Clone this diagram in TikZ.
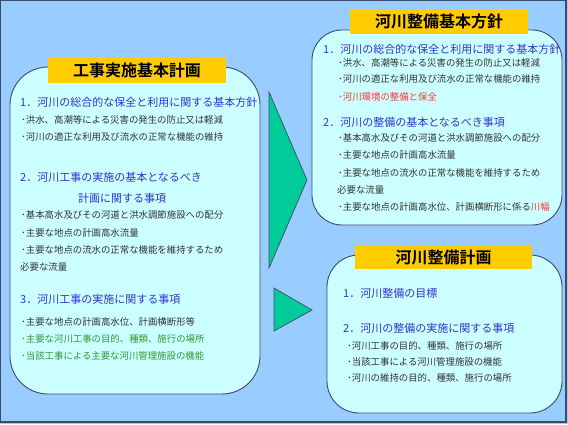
\documentclass[tikz,border=0pt]{standalone}
\usepackage{fontspec}
\newfontfamily\cjk{Noto Sans CJK JP}[BoldFont={Noto Sans CJK JP Bold}]
\definecolor{bgc}{HTML}{99CCFF}
\definecolor{boxc}{HTML}{CCFFFF}
\definecolor{edgec}{HTML}{3F4A66}
\definecolor{titc}{HTML}{FFCC00}
\definecolor{headc}{HTML}{3333CC}
\definecolor{txtc}{HTML}{333333}
\definecolor{grnc}{HTML}{339933}
\definecolor{redc}{HTML}{FF3333}
\definecolor{tric}{HTML}{00CC99}
\tikzset{
  panel/.style={fill=boxc,draw=edgec,line width=0.9pt},
  titlebox/.style={fill=titc,draw=none,inner sep=0pt,font=\cjk\bfseries\fontsize{16}{18}\selectfont,text=black},
  head/.style={anchor=west,inner sep=0pt,text=headc,font=\cjk\fontsize{11}{13}\selectfont},
  item/.style={anchor=west,inner sep=0pt,text=txtc,font=\cjk\fontsize{9.4}{11}\selectfont},
  gitem/.style={item,text=grnc},
  ritem/.style={item,text=redc},
  tri/.style={fill=tric,draw=edgec,line width=0.7pt,line join=miter}
}
\begin{document}
\begin{tikzpicture}[x=1pt,y=-1pt]
\useasboundingbox (0,0) rectangle (568,424);
\fill[bgc] (0,0) rectangle (568,424);
\draw[edgec,line width=1.2pt] (0.6,0.6) rectangle (566,422);

% left panel
\draw[panel,rounded corners=38pt] (10,67) rectangle (260,394);
\node[titlebox,minimum width=178pt,minimum height=26pt] (t1) at (137,70) {工事実施基本計画};
\node[head] (l1) at (20,102) {1．河川の総合的な保全と利用に関する基本方針};
\node[item] (l2) at (21,120) {･洪水、高潮等による災害の発生の防止又は軽減};
\node[item] (l3) at (21,137) {･河川の適正な利用及び流水の正常な機能の維持};
\node[head] (l4) at (20,177) {2．河川工事の実施の基本となるべき};
\node[head] (l5) at (78,198) {計画に関する事項};
\node[item] (l6) at (21,215) {･基本高水及びその河道と洪水調節施設への配分};
\node[item] (l7) at (21,233) {･主要な地点の計画高水流量};
\node[item] (l8) at (21,250) {･主要な地点の流水の正常な機能を維持するため};
\node[item] (l9) at (20,267) {必要な流量};
\node[head] (l10) at (20,299) {3．河川工事の実施に関する事項};
\node[item] (l11) at (21,322) {･主要な地点の計画高水位、計画横断形等};
\node[gitem] (l12) at (21,339) {･主要な河川工事の目的、種類、施行の場所};
\node[gitem] (l13) at (21,356) {･当該工事による主要な河川管理施設の機能};

% arrows
\draw[tri] (269,92) -- (269,268) -- (307,180) -- cycle;
\draw[tri] (274,288) -- (274,331) -- (312,310) -- cycle;

% top right panel
\draw[panel,rounded corners=30pt] (312,30) rectangle (562,225);
\node[titlebox,minimum width=178pt,minimum height=25pt] (t2) at (439,21.5) {河川整備基本方針};
\node[head] (r1) at (323,49) {1．河川の総合的な保全と利用に関する基本方針};
\node[item] (r2) at (338,63) {･洪水、高潮等による災害の発生の防止又は軽減};
\node[item] (r3) at (338,79) {･河川の適正な利用及び流水の正常な機能の維持};
\node[ritem] (r4) at (338,97) {･河川環境の整備と保全};
\node[head] (r5) at (323,122) {2．河川の整備の基本となるべき事項};
\node[item] (r6) at (338,138) {･基本高水及びその河道と洪水調節施設への配分};
\node[item] (r7) at (338,155) {･主要な地点の計画高水流量};
\node[item] (r8) at (338,173) {･主要な地点の流水の正常な機能を維持するため};
\node[item] (r9) at (337,190) {必要な流量};
\node[item] (r10) at (338,207) {･主要な地点の計画高水位、計画横断形に係る\textcolor{redc}{川幅}};

% bottom right panel
\draw[panel,rounded corners=32pt] (327,255) rectangle (562,413);
\node[titlebox,minimum width=177pt,minimum height=24pt] (t3) at (443.5,257) {河川整備計画};
\node[head] (b1) at (343,293) {1．河川整備の目標};
\node[head] (b2) at (343,328) {2．河川の整備の実施に関する事項};
\node[item] (b3) at (347,346) {･河川工事の目的、種類、施行の場所};
\node[item] (b4) at (347,362) {･当該工事による河川管理施設の機能};
\node[item] (b5) at (347,378) {･河川の維持の目的、種類、施行の場所};
\end{tikzpicture}
\end{document}
